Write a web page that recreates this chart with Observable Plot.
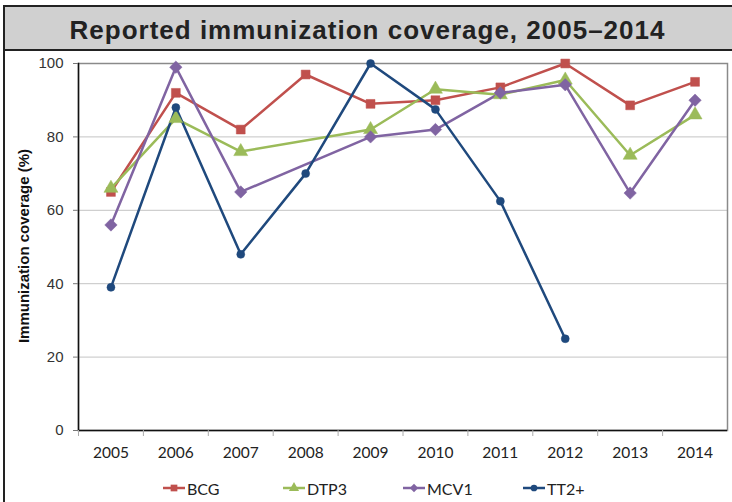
<!DOCTYPE html>
<html>
<head>
<meta charset="utf-8">
<script src="https://cdn.jsdelivr.net/npm/d3@7"></script>
<script src="https://cdn.jsdelivr.net/npm/@observablehq/plot@0.6"></script>
<style>
  body { margin: 0; background: #fff; }
  #wrap { position: relative; width: 732px; height: 502px; overflow: hidden; background: #fff; font-family: "Liberation Sans", Arial, sans-serif; }
  #band { position: absolute; left: 3px; top: 5px; width: 740px; height: 42px; background: #d0d0d0; border-top: 2px solid #222; border-bottom: 2px solid #222; }
  #lborder { position: absolute; left: 3px; top: 5px; width: 0; height: 520px; border-left: 2px solid #222; }
  #title { position: absolute; left: 3px; top: 7px; width: 729px; height: 42px; padding-top: 2px; line-height: 42px; text-align: center; font-family: "Liberation Sans", Arial, sans-serif; font-weight: bold; font-size: 26px; letter-spacing: 1px; color: #222; }
  #chart { position: absolute; left: 0; top: 44px; }
  #ytitle { position: absolute; left: 23px; top: 246px; transform: translate(-50%, -50%) rotate(-90deg); white-space: nowrap; font-weight: bold; font-size: 15px; color: #111; }
  #legend { position: absolute; left: 163px; top: 478px; display: flex; }
  .item { width: 120px; display: flex; align-items: center; font-family: Lato, "Liberation Sans", sans-serif; font-size: 16px; color: #222; height: 20px; }
  .item svg { margin-right: 2px; }
</style>
</head>
<body>
<div id="wrap">
  <div id="band"></div>
  <div id="lborder"></div>
  <div id="title">Reported immunization coverage, 2005–2014</div>
  <div id="chart"></div>
  <div id="ytitle">Immunization coverage (%)</div>
  <div id="legend"></div>
</div>
<script>
const years = ["2005","2006","2007","2008","2009","2010","2011","2012","2013","2014"];
const seriesNames = ["BCG","DTP3","MCV1","TT2+"];
const bcg  = [65, 92, 82, 97, 89, 90, 93.5, 100, 88.6, 95];
const dtp3 = [66, 85, 76, null, 82, 93, 91.5, 95.5, 75, 86];
const mcv1 = [56, 99, 65, null, 80, 82, 92, 94.2, 64.7, 90];
const tt2  = [39, 88, 48, 70, 100, 87.5, 62.5, 25, null, null];
const yTicks = [0, 20, 40, 60, 80, 100];
const colors = ["#C0504D", "#9BBB59", "#8064A2", "#1F497D"];
const symbols = ["square", "triangle", "diamond2", "circle"];
const radii = [5, 5.2, 5.6, 4];

const valuesBySeries = [bcg, dtp3, mcv1, tt2];
const rows = [];
seriesNames.forEach((s, i) => {
  years.forEach((y, j) => {
    const v = valuesBySeries[i][j];
    if (v != null) rows.push({series: s, year: y, value: v});
  });
});

const W = 732, H = 420, mL = 78, mR = 5;
const bw = (W - mL - mR) / years.length;

const marks = [
  Plot.gridY([20, 40, 60, 80], {stroke: "#c4c4c4", strokeOpacity: 1, strokeWidth: 1}),
  Plot.frame({stroke: "#8a8a8a", strokeWidth: 1.5}),
  Plot.frame({anchor: "left", stroke: "#111", strokeWidth: 1.5}),
  Plot.ruleY([0], {stroke: "#111", strokeWidth: 1.5}),
  Plot.axisY({ticks: yTicks, tickSize: 5, tickPadding: 10, label: null, fontSize: 15, stroke: "#777", color: "#333"}),
  Plot.axisX({tickSize: 0, tickPadding: 16, label: null, fontSize: 15.5, fontFamily: "Lato, Liberation Sans, sans-serif", color: "#222"}),
  Plot.axisX({tickSize: 6, tickFormat: () => "", dx: -bw / 2, label: null, stroke: "#aaa"})
];
seriesNames.forEach((s, i) => {
  const d = rows.filter(r => r.series === s);
  marks.push(Plot.line(d, {x: "year", y: "value", stroke: colors[i], strokeWidth: 2.5}));
});
seriesNames.forEach((s, i) => {
  const d = rows.filter(r => r.series === s);
  marks.push(Plot.dot(d, {x: "year", y: "value", fill: colors[i], stroke: colors[i], strokeWidth: 0.5, symbol: symbols[i], r: radii[i]}));
});

const chart = Plot.plot({
  width: W,
  height: H,
  marginLeft: mL,
  marginRight: mR,
  marginTop: 19,
  marginBottom: H - (430 - 44),
  style: {fontFamily: "Liberation Sans, Arial, sans-serif", background: "transparent", overflow: "visible"},
  x: {type: "band", domain: years, padding: 0, round: false},
  y: {domain: [0, 100]},
  marks
});
document.getElementById("chart").appendChild(chart);

const legend = d3.select("#legend");
const legSyms = [d3.symbolSquare, d3.symbolTriangle, d3.symbolDiamond2, d3.symbolCircle];
const legSizes = [45, 45, 45, 35];
seriesNames.forEach((s, i) => {
  const item = legend.append("div").attr("class", "item");
  const svg = item.append("svg").attr("width", 22).attr("height", 14);
  svg.append("line").attr("x1", 0).attr("x2", 22).attr("y1", 7).attr("y2", 7).attr("stroke", colors[i]).attr("stroke-width", 2.5);
  svg.append("path").attr("transform", "translate(11,7)").attr("fill", colors[i])
    .attr("d", d3.symbol(legSyms[i], legSizes[i])());
  item.append("span").text(s);
});
</script>
</body>
</html>
